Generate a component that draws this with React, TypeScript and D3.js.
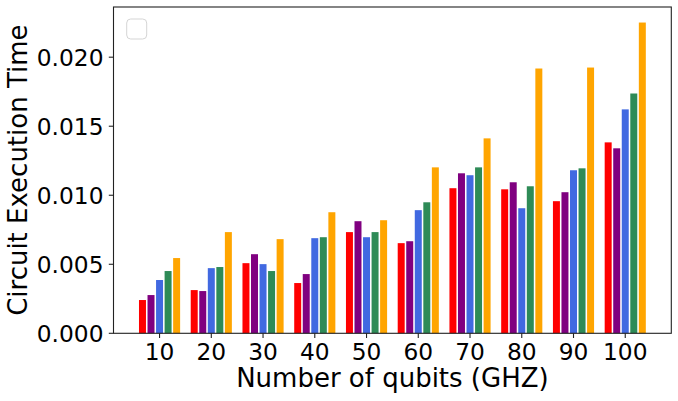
import React from "react";
import * as d3 from "d3";

const qubits = ["10", "20", "30", "40", "50", "60", "70", "80", "90", "100"];
const seriesColors = ["red", "purple", "royalblue", "seagreen", "orange"];

// execution times per series (one value per qubit count)
const redTimes = [0.00241, 0.00313, 0.00508, 0.00364, 0.00733, 0.00653, 0.01051, 0.01043, 0.00957, 0.01383];
const purpleTimes = [0.00277, 0.00306, 0.00573, 0.00429, 0.00812, 0.00667, 0.01159, 0.01094, 0.01022, 0.0134];
const blueTimes = [0.00386, 0.00472, 0.00501, 0.00689, 0.00696, 0.00892, 0.01145, 0.00906, 0.01181, 0.01622];
const greenTimes = [0.00451, 0.0048, 0.00451, 0.00696, 0.00733, 0.00949, 0.01202, 0.01065, 0.01195, 0.01737];
const orangeTimes = [0.00545, 0.00733, 0.00682, 0.00877, 0.00819, 0.01202, 0.01412, 0.01918, 0.01925, 0.02251];

const yTicks = [0, 0.005, 0.01, 0.015, 0.02];

const width = 678;
const height = 401;
const left = 113.5;
const right = 671.3;
const top = 7;
const bottom = 333.3;

const barStep = 0.165;
const barWidth = 0.135;

const App = () => {
  const series = [redTimes, purpleTimes, blueTimes, greenTimes, orangeTimes];

  const xScale = d3.scaleLinear().domain([-0.89, 9.89]).range([left, right]);
  const maxVal = d3.max(series.flat()) as number;
  const yScale = d3.scaleLinear().domain([0, maxVal * 1.05]).range([bottom, top]);

  const font = "'DejaVu Sans', sans-serif";

  return (
    <svg
      width={width}
      height={height}
      style={{ position: "absolute", left: 0, top: 0, background: "white" }}
    >
      {series.map((vals, s) =>
        vals.map((v, i) => {
          const cx = i + (s - 2) * barStep;
          const x0 = xScale(cx - barWidth / 2);
          const x1 = xScale(cx + barWidth / 2);
          return (
            <rect
              key={`${s}-${i}`}
              x={x0}
              y={yScale(v)}
              width={x1 - x0}
              height={bottom - yScale(v)}
              fill={seriesColors[s]}
            />
          );
        })
      )}

      {/* frame */}
      <rect
        x={left}
        y={top}
        width={right - left}
        height={bottom - top}
        fill="none"
        stroke="#222"
        strokeWidth={1.1}
      />

      {/* empty legend */}
      <rect x={126.7} y={19} width={20} height={20} rx={4} fill="white" stroke="#d5d5d5" strokeWidth={1} />

      {/* y axis */}
      {yTicks.map((t) => (
        <g key={t}>
          <line x1={left - 4.7} x2={left} y1={yScale(t)} y2={yScale(t)} stroke="#222" strokeWidth={1.1} />
          <text
            x={left - 10}
            y={yScale(t)}
            dy="0.36em"
            textAnchor="end"
            fontFamily={font}
            fontSize={23.3}
            fill="black"
          >
            {d3.format(".3f")(t)}
          </text>
        </g>
      ))}

      {/* x axis */}
      {qubits.map((q, i) => (
        <g key={q}>
          <line x1={xScale(i)} x2={xScale(i)} y1={bottom} y2={bottom + 4.7} stroke="#222" strokeWidth={1.1} />
          <text x={xScale(i)} y={359.5} textAnchor="middle" fontFamily={font} fontSize={23.3} fill="black">
            {q}
          </text>
        </g>
      ))}

      <text x={(left + right) / 2} y={386.7} textAnchor="middle" fontFamily={font} fontSize={26} fill="black">
        Number of qubits (GHZ)
      </text>
      <text
        transform={`translate(26.7, ${(top + bottom) / 2}) rotate(-90)`}
        textAnchor="middle"
        fontFamily={font}
        fontSize={26}
        fill="black"
      >
        Circuit Execution Time
      </text>
    </svg>
  );
};

export default App;
